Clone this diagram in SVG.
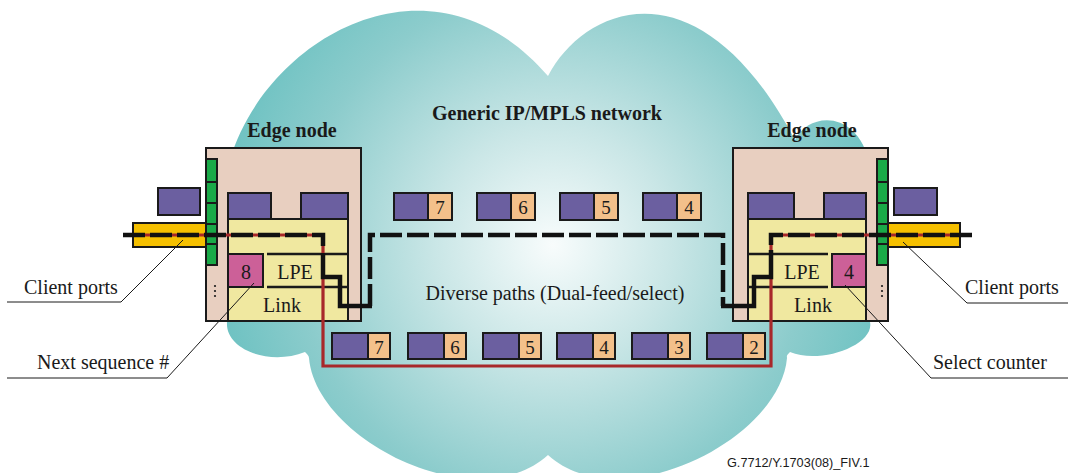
<svg xmlns="http://www.w3.org/2000/svg" width="1068" height="473" viewBox="0 0 1068 473">
<defs>
<radialGradient id="cloudGrad" gradientUnits="userSpaceOnUse" cx="553" cy="245" r="340">
<stop offset="0" stop-color="#f8fcfc"/>
<stop offset="0.35" stop-color="#c9e6e6"/>
<stop offset="0.75" stop-color="#8ccccc"/>
<stop offset="1" stop-color="#6ec2c2"/>
</radialGradient>
<style>
.t{font-family:"Liberation Serif","Times New Roman",serif;font-size:20px;fill:#1a1a1a}
.b{font-weight:bold}
.mid{text-anchor:middle}
.box{stroke:#1a1a1a;stroke-width:2}
.edge{fill:#e8cfc0}
.inner{fill:#f0e8a0}
.pur{fill:#6b5fa0}
.org{fill:#f3c08a}
.pink{fill:#cc6098}
.grn{fill:#1aaa48}
.gold{fill:#f5c000}
.num{font-family:"Liberation Serif","Times New Roman",serif;font-size:19px;fill:#1a1a1a;text-anchor:middle}
.lead{fill:none;stroke:#1a1a1a;stroke-width:1}
.thick{fill:none;stroke:#1a1a1a;stroke-width:2.5}
</style>
</defs>
<g id="cloud">
<path d="M548,76 C585,5 700,-40 795,140 C808,112 858,108 870,165 L870,322 C875,345 820,365 790,352 C786,356 787,356 787,358 C780,440 620,520 548,455 C476,520 316,440 309,358 C309,356 307,354 305,352 C270,366 225,350 227,322 L230,160 C265,40 430,-60 548,76 Z" fill="url(#cloudGrad)"/>
</g>
<g id="network-label">
<text class="t b mid" x="547" y="120">Generic IP/MPLS network</text>
<text class="t mid" x="555" y="300">Diverse paths (Dual-feed/select)</text>
</g>
<g id="edge-node-left">
<text class="t b mid" x="292" y="137">Edge node</text>
<rect class="box edge" x="206" y="148" width="155" height="173"/>
<rect class="box pur" x="158" y="188" width="42" height="27"/>
<rect class="box gold" x="133" y="223" width="73" height="24"/>
<rect class="box grn" x="206" y="159" width="11" height="23"/>
<rect class="box grn" x="206" y="182" width="11" height="21"/>
<rect class="box grn" x="206" y="203" width="11" height="21"/>
<rect class="box grn" x="206" y="224" width="11" height="20"/>
<rect class="box grn" x="206" y="244" width="11" height="21"/>
<circle cx="215" cy="286" r="1.1" fill="#1a1a1a"/>
<circle cx="215" cy="291" r="1.1" fill="#1a1a1a"/>
<circle cx="215" cy="296" r="1.1" fill="#1a1a1a"/>
<rect class="box inner" x="228" y="219" width="120" height="102"/>
<rect class="box pur" x="228" y="193" width="43" height="26"/>
<rect class="box pur" x="301" y="193" width="47" height="26"/>
<rect class="box pink" x="228" y="254" width="35" height="33"/>
<line class="thick" x1="267" y1="254" x2="348" y2="254"/>
<line class="thick" x1="267" y1="287" x2="348" y2="287"/>
<text class="t mid" x="246" y="279">8</text>
<text class="t mid" x="295" y="279">LPE</text>
<text class="t mid" x="282" y="312">Link</text>
</g>
<g id="edge-node-right">
<text class="t b mid" x="812" y="137">Edge node</text>
<rect class="box edge" x="733" y="148" width="155" height="173"/>
<rect class="box pur" x="894" y="188" width="43" height="27"/>
<rect class="box gold" x="888" y="223" width="72" height="24"/>
<rect class="box grn" x="877" y="159" width="11" height="23"/>
<rect class="box grn" x="877" y="182" width="11" height="21"/>
<rect class="box grn" x="877" y="203" width="11" height="21"/>
<rect class="box grn" x="877" y="224" width="11" height="20"/>
<rect class="box grn" x="877" y="244" width="11" height="21"/>
<circle cx="882" cy="286" r="1.1" fill="#1a1a1a"/>
<circle cx="882" cy="291" r="1.1" fill="#1a1a1a"/>
<circle cx="882" cy="296" r="1.1" fill="#1a1a1a"/>
<rect class="box inner" x="748" y="219" width="118" height="102"/>
<rect class="box pur" x="748" y="193" width="46" height="26"/>
<rect class="box pur" x="824" y="193" width="42" height="26"/>
<rect class="box pink" x="832" y="254" width="34" height="33"/>
<line class="thick" x1="748" y1="254" x2="828" y2="254"/>
<line class="thick" x1="748" y1="287" x2="828" y2="287"/>
<text class="t mid" x="849" y="279">4</text>
<text class="t mid" x="802" y="279">LPE</text>
<text class="t mid" x="813" y="312">Link</text>
</g>
<g id="packets-top">
<g id="pt7"><rect class="box pur" x="394" y="193" width="34" height="27"/><rect class="box org" x="428" y="193" width="24" height="27"/><text class="num" x="440" y="214">7</text></g>
<g id="pt6"><rect class="box pur" x="477" y="193" width="34" height="27"/><rect class="box org" x="511" y="193" width="24" height="27"/><text class="num" x="523" y="214">6</text></g>
<g id="pt5"><rect class="box pur" x="560" y="193" width="34" height="27"/><rect class="box org" x="594" y="193" width="24" height="27"/><text class="num" x="606" y="214">5</text></g>
<g id="pt4"><rect class="box pur" x="643" y="193" width="34" height="27"/><rect class="box org" x="677" y="193" width="24" height="27"/><text class="num" x="689" y="214">4</text></g>
</g>
<g id="packets-bottom">
<g id="pb7"><rect class="box pur" x="332" y="333" width="36" height="26"/><rect class="box org" x="368" y="333" width="22" height="26"/><text class="num" x="379" y="354">7</text></g>
<g id="pb6"><rect class="box pur" x="408" y="333" width="36" height="26"/><rect class="box org" x="444" y="333" width="22" height="26"/><text class="num" x="455" y="354">6</text></g>
<g id="pb5"><rect class="box pur" x="483" y="333" width="36" height="26"/><rect class="box org" x="519" y="333" width="22" height="26"/><text class="num" x="530" y="354">5</text></g>
<g id="pb4"><rect class="box pur" x="557" y="333" width="36" height="26"/><rect class="box org" x="593" y="333" width="22" height="26"/><text class="num" x="604" y="354">4</text></g>
<g id="pb3"><rect class="box pur" x="632" y="333" width="36" height="26"/><rect class="box org" x="668" y="333" width="22" height="26"/><text class="num" x="679" y="354">3</text></g>
<g id="pb2"><rect class="box pur" x="707" y="333" width="36" height="26"/><rect class="box org" x="743" y="333" width="22" height="26"/><text class="num" x="754" y="354">2</text></g>
</g>
<g id="connectors">
<path d="M123,235 H323 V366 H771 V235 H972" fill="none" stroke="#a8282a" stroke-width="3.2"/>
<path d="M123,235 H323 V250" fill="none" stroke="#111" stroke-width="4.5" stroke-dasharray="22 5"/>
<path d="M323,253 V277 H340 V306 H372" fill="none" stroke="#111" stroke-width="4.5"/>
<path d="M370,306 V235 H723 V306" fill="none" stroke="#111" stroke-width="4.5" stroke-dasharray="22 5"/>
<path d="M721,306 H754 V277 H771 V250" fill="none" stroke="#111" stroke-width="4.5"/>
<path d="M771,245 V235 H972" fill="none" stroke="#111" stroke-width="4.5" stroke-dasharray="22 5"/>
<polyline class="lead" points="7,302 121,302 183,240"/>
<polyline class="lead" points="7,378 167,378 254,283"/>
<polyline class="lead" points="1068,303 967,303 903,242"/>
<polyline class="lead" points="1068,378 931,378 845,285"/>
</g>
<g id="labels">
<text class="t" x="24" y="294">Client ports</text>
<text class="t" x="37" y="369">Next sequence #</text>
<text class="t" x="965" y="294">Client ports</text>
<text class="t" x="933" y="369">Select counter</text>
<text x="727" y="467" font-family="Liberation Sans, Arial, sans-serif" font-size="12.7" fill="#1a1a1a">G.7712/Y.1703(08)_FIV.1</text>
</g>
</svg>
